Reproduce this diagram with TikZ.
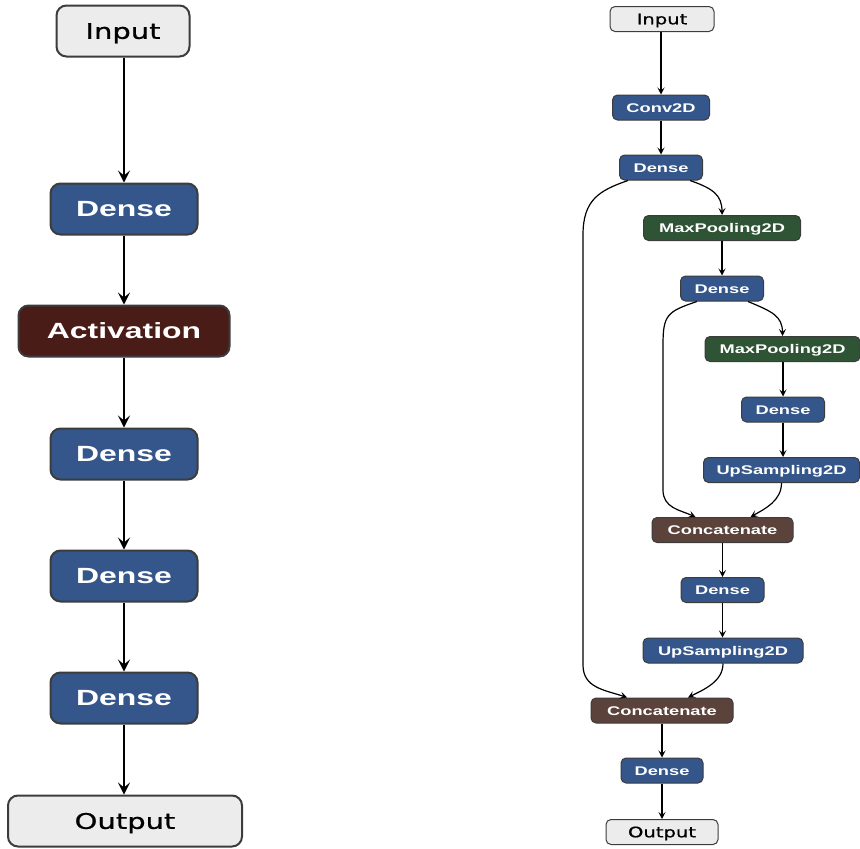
\documentclass[tikz,border=0pt]{standalone}
\usepackage{fontspec}
\usetikzlibrary{arrows.meta,calc}
\newfontfamily\labfont[FakeStretch=1.45]{Liberation Sans Bold}
\newfontfamily\iofont[FakeStretch=1.35,FakeBold=0.8]{DejaVu Sans}
\definecolor{nblue}{RGB}{52,86,138}
\definecolor{nred}{RGB}{74,28,23}
\definecolor{ngreen}{RGB}{47,83,53}
\definecolor{nbrown}{RGB}{91,67,60}
\definecolor{ngray}{RGB}{236,236,236}
\definecolor{nedge}{RGB}{60,60,60}
\begin{document}
\begin{tikzpicture}[x=1pt,y=-1pt,
  bigbox/.style={draw=nedge,line width=2pt,rounded corners=10pt,inner sep=0pt,minimum height=51pt,text depth=0pt},
  bigio/.style={bigbox,fill=ngray,text=black,text height=15.7pt,font=\iofont\fontsize{21.5}{24}\selectfont},
  biglab/.style={bigbox,text=white,text height=15.8pt,font=\labfont\fontsize{22}{26}\selectfont},
  smallbox/.style={draw=nedge,line width=1pt,rounded corners=5pt,inner sep=0pt,minimum height=25pt,text depth=0pt},
  smallio/.style={smallbox,fill=ngray,text=black,text height=10.6pt,font=\iofont\fontsize{14.5}{17}\selectfont},
  smalllab/.style={smallbox,text=white,text height=9.1pt,font=\labfont\fontsize{12.6}{15}\selectfont},
  bigarrow/.style={-{Stealth[length=12pt,width=12pt,inset=5pt]},line width=2pt,black},
  smallarrow/.style={-{Stealth[length=7pt,width=7pt,inset=3pt]},line width=1.2pt,black}]
\useasboundingbox (0,0) rectangle (860,849);
% ---------- left column ----------
\node[bigio,minimum width=133pt] (lin) at (123,31) {Input};
\node[biglab,fill=nblue,minimum width=147pt] (ld1) at (124,209) {Dense};
\node[biglab,fill=nred,minimum width=211pt] (lact) at (124,331) {Activation};
\node[biglab,fill=nblue,minimum width=147pt] (ld2) at (124,454) {Dense};
\node[biglab,fill=nblue,minimum width=147pt] (ld3) at (124,576) {Dense};
\node[biglab,fill=nblue,minimum width=147pt] (ld4) at (124,698) {Dense};
\node[bigio,minimum width=234pt] (lout) at (125,821) {Output};
\draw[bigarrow] (lin.south -| ld1) -- (ld1.north);
\draw[bigarrow] (ld1) -- (lact);
\draw[bigarrow] (lact) -- (ld2);
\draw[bigarrow] (ld2) -- (ld3);
\draw[bigarrow] (ld3) -- (ld4);
\draw[bigarrow] (ld4.south) -- (ld4.south |- lout.north);
% ---------- right column ----------
\node[smallio,minimum width=104pt] (rin) at (662,19) {Input};
\node[smalllab,fill=nblue,minimum width=97pt] (rconv) at (661,107.5) {Conv2D};
\node[smalllab,fill=nblue,minimum width=83pt] (rd1) at (661,167.5) {Dense};
\node[smalllab,fill=ngreen,minimum width=157pt] (rmp1) at (722,228) {MaxPooling2D};
\node[smalllab,fill=nblue,minimum width=83pt] (rd2) at (722,288.5) {Dense};
\node[smalllab,fill=ngreen,minimum width=155pt] (rmp2) at (782.5,349) {MaxPooling2D};
\node[smalllab,fill=nblue,minimum width=83pt] (rd3) at (783,409.5) {Dense};
\node[smalllab,fill=nblue,minimum width=156pt] (rup1) at (781.5,470) {UpSampling2D};
\node[smalllab,fill=nbrown,minimum width=141pt] (rcat1) at (722.5,530) {Concatenate};
\node[smalllab,fill=nblue,minimum width=83pt] (rd4) at (722.5,590) {Dense};
\node[smalllab,fill=nblue,minimum width=160pt] (rup2) at (723,650.5) {UpSampling2D};
\node[smalllab,fill=nbrown,minimum width=142pt] (rcat2) at (662,710.5) {Concatenate};
\node[smalllab,fill=nblue,minimum width=82pt] (rd5) at (662,770.5) {Dense};
\node[smallio,minimum width=112pt] (rout) at (662,832) {Output};
\draw[smallarrow] (rin.south -| rconv) -- (rconv.north);
\draw[smallarrow] (rconv) -- (rd1);
\draw[smallarrow] ($(rd1.south)+(29,0)$) .. controls ($(rd1.south)+(52,8)$) and ($(rmp1.north)+(0,-20)$) .. (rmp1.north);
\draw[smallarrow] ($(rd1.south)+(-33,0)$) .. controls ($(rd1.south)+(-62,10)$) and (583,200) .. (583,235)
  -- (583,665) .. controls (583,688) and (605,690) .. ($(rcat2.north)+(-35,0)$);
\draw[smallarrow] (rmp1) -- (rd2);
\draw[smallarrow] ($(rd2.south)+(26,0)$) .. controls ($(rd2.south)+(50,10)$) and ($(rmp2.north)+(0,-20)$) .. (rmp2.north);
\draw[smallarrow] ($(rd2.south)+(-25,0)$) .. controls ($(rd2.south)+(-55,10)$) and (663,315) .. (663,345)
  -- (663,490) .. controls (663,508) and (680,510) .. ($(rcat1.north)+(-27,0)$);
\draw[smallarrow] (rmp2.south -| rd3) -- (rd3.north);
\draw[smallarrow] (rd3.south) -- (rd3.south |- rup1.north);
\draw[smallarrow] (rup1.south) .. controls ($(rup1.south)+(0,18)$) and ($(rcat1.north)+(42,-8)$) .. ($(rcat1.north)+(28,0)$);
\draw[smallarrow] (rcat1) -- (rd4);
\draw[smallarrow] (rd4.south) -- (rd4.south |- rup2.north);
\draw[smallarrow] (rup2.south) .. controls ($(rup2.south)+(0,18)$) and ($(rcat2.north)+(42,-8)$) .. ($(rcat2.north)+(26,0)$);
\draw[smallarrow] (rcat2) -- (rd5);
\draw[smallarrow] (rd5) -- (rout);
\end{tikzpicture}
\end{document}
